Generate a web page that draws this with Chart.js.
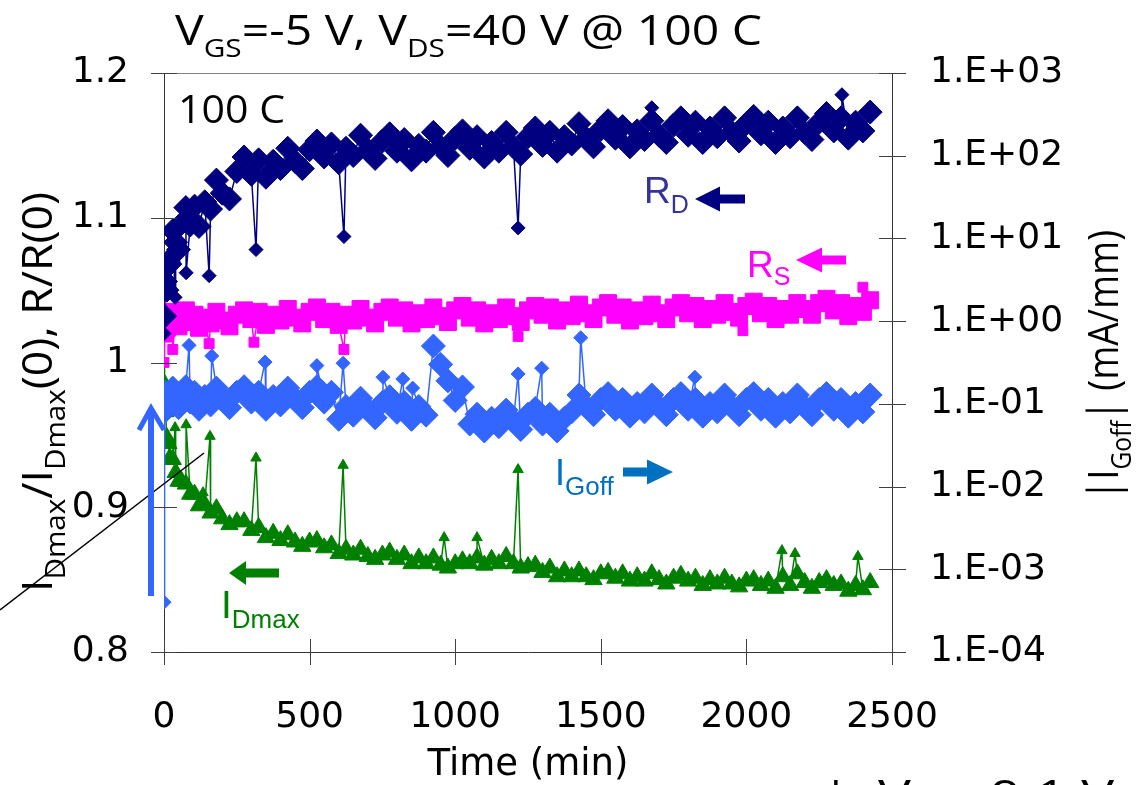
<!DOCTYPE html>
<html>
<head>
<meta charset="utf-8">
<script src="https://cdn.jsdelivr.net/npm/chart.js@4.4.0/dist/chart.umd.min.js"></script>
<style>
  body { margin: 0; background: #fff; }
  canvas { display: block; }
</style>
</head>
<body>
<canvas id="chart" width="1140" height="785"></canvas>
<script>
// Values (time in minutes).
const timeMin = [0, 2, 5, 10, 15, 20, 30, 40, 50, 60, 75, 90, 105, 120, 140, 160, 180,
  200, 225, 250, 275, 300, 325, 350, 375, 400, 425, 450, 475, 500, 525, 550, 575, 600, 625, 650, 675,
  700, 725, 750, 775, 800, 825, 850, 875, 900, 925, 950, 975, 1000, 1025, 1050, 1075, 1100, 1125, 1150, 1175,
  1200, 1225, 1250, 1275, 1300, 1325, 1350, 1375, 1400, 1425, 1450, 1475, 1500, 1525, 1550, 1575, 1600, 1625, 1650, 1675,
  1700, 1725, 1750, 1775, 1800, 1825, 1850, 1875, 1900, 1925, 1950, 1975, 2000, 2025, 2050, 2075, 2100, 2125, 2150, 2175,
  2200, 2225, 2250, 2275, 2300, 2325, 2350, 2375, 2400, 2425];

// R_D / R_D(0)
const rdValue = [1.020, 1.032, 1.056, 1.050, 1.070, 1.068, 1.091, 1.083, 1.078, 1.096,
  1.107, 1.095, 1.108, 1.094, 1.111, 1.106, 1.126,
  1.117, 1.113, 1.132, 1.142, 1.130, 1.140, 1.128, 1.139, 1.134, 1.148,
  1.139, 1.134, 1.147, 1.153, 1.142, 1.151, 1.138, 1.148, 1.143, 1.157,
  1.147, 1.141, 1.153, 1.158, 1.146, 1.154, 1.140, 1.150, 1.146, 1.159,
  1.149, 1.143, 1.155, 1.160, 1.148, 1.156, 1.142, 1.152, 1.146, 1.159,
  1.149, 1.144, 1.156, 1.162, 1.150, 1.159, 1.146, 1.156, 1.151, 1.165,
  1.155, 1.149, 1.161, 1.167, 1.155, 1.163, 1.149, 1.160, 1.154, 1.167,
  1.157, 1.152, 1.164, 1.169, 1.157, 1.166, 1.152, 1.162, 1.156, 1.169,
  1.159, 1.153, 1.165, 1.170, 1.158, 1.166, 1.152, 1.162, 1.156, 1.169,
  1.159, 1.154, 1.166, 1.172, 1.160, 1.169, 1.155, 1.166, 1.160, 1.173];
const rdSpikeTime = [38, 76, 155, 316, 618, 1216, 1675, 2328];
const rdSpikeValue = [1.045, 1.062, 1.060, 1.078, 1.087, 1.093, 1.176, 1.185];

// R_S / R_S(0)
const rsValue = [1.000, 1.020, 1.033, 1.024, 1.031, 1.027, 1.035, 1.029, 1.025, 1.033,
  1.036, 1.028, 1.033, 1.024, 1.031, 1.027, 1.035,
  1.029, 1.025, 1.033, 1.036, 1.030, 1.035, 1.026, 1.033, 1.029, 1.037,
  1.031, 1.027, 1.035, 1.038, 1.030, 1.035, 1.026, 1.033, 1.029, 1.037,
  1.031, 1.027, 1.035, 1.038, 1.031, 1.036, 1.027, 1.034, 1.030, 1.038,
  1.032, 1.028, 1.036, 1.039, 1.031, 1.036, 1.027, 1.034, 1.030, 1.038,
  1.032, 1.028, 1.036, 1.039, 1.033, 1.038, 1.029, 1.036, 1.032, 1.040,
  1.034, 1.030, 1.038, 1.041, 1.033, 1.038, 1.029, 1.036, 1.032, 1.040,
  1.034, 1.030, 1.038, 1.041, 1.034, 1.039, 1.030, 1.037, 1.033, 1.041,
  1.035, 1.031, 1.039, 1.042, 1.034, 1.039, 1.030, 1.037, 1.033, 1.041,
  1.037, 1.033, 1.041, 1.044, 1.036, 1.041, 1.032, 1.039, 1.035, 1.043];
const rsSpikeTime = [30, 155, 309, 618, 1216, 1988, 2400];
const rsSpikeValue = [1.009, 1.013, 1.014, 1.009, 1.018, 1.022, 1.052];

// |I_Goff| in mA/mm (right axis)
const igValue = [0.0004, 0.105, 0.138, 0.086, 0.123, 0.097, 0.155, 0.114, 0.090, 0.138,
  0.161, 0.105, 0.138, 0.086, 0.123, 0.097, 0.155,
  0.114, 0.090, 0.138, 0.161, 0.105, 0.138, 0.086, 0.123, 0.097, 0.155,
  0.114, 0.090, 0.138, 0.161, 0.105, 0.138, 0.065, 0.093, 0.073, 0.117,
  0.086, 0.068, 0.104, 0.122, 0.079, 0.104, 0.065, 0.093, 0.073, 0.500,
  0.300, 0.190, 0.110, 0.160, 0.057, 0.075, 0.047, 0.067, 0.053, 0.084,
  0.062, 0.049, 0.075, 0.088, 0.057, 0.075, 0.047, 0.067, 0.080, 0.128,
  0.093, 0.074, 0.113, 0.133, 0.086, 0.113, 0.071, 0.101, 0.080, 0.128,
  0.093, 0.074, 0.113, 0.133, 0.086, 0.113, 0.071, 0.101, 0.080, 0.128,
  0.093, 0.074, 0.113, 0.133, 0.086, 0.113, 0.071, 0.101, 0.080, 0.128,
  0.093, 0.074, 0.113, 0.133, 0.086, 0.113, 0.071, 0.101, 0.080, 0.128];
const igSpikeTime = [86, 164, 347, 525, 615, 752, 820, 854, 1216, 1297, 1431, 1823];
const igSpikeValue = [0.51, 0.38, 0.32, 0.29, 0.31, 0.21, 0.20, 0.155, 0.23, 0.27, 0.63, 0.21];

// I_Dmax / I_Dmax(0)
const idValue = [1.000, 0.985, 0.966, 0.948, 0.944, 0.934, 0.933, 0.924, 0.918, 0.918,
  0.916, 0.909, 0.909, 0.901, 0.902, 0.896, 0.899,
  0.892, 0.888, 0.890, 0.890, 0.884, 0.886, 0.879, 0.882, 0.877, 0.881,
  0.876, 0.873, 0.876, 0.877, 0.872, 0.874, 0.868, 0.871, 0.867, 0.871,
  0.866, 0.864, 0.867, 0.869, 0.864, 0.867, 0.861, 0.865, 0.861, 0.865,
  0.860, 0.858, 0.861, 0.863, 0.861, 0.865, 0.860, 0.864, 0.861, 0.866,
  0.861, 0.858, 0.859, 0.860, 0.855, 0.858, 0.852, 0.856, 0.852, 0.856,
  0.852, 0.850, 0.854, 0.855, 0.851, 0.854, 0.849, 0.852, 0.849, 0.854,
  0.850, 0.847, 0.851, 0.853, 0.849, 0.851, 0.846, 0.850, 0.847, 0.851,
  0.847, 0.845, 0.849, 0.850, 0.846, 0.849, 0.844, 0.852, 0.846, 0.854,
  0.848, 0.844, 0.848, 0.850, 0.846, 0.847, 0.842, 0.846, 0.843, 0.848];
const idSpikeTime = [38, 76, 134, 158, 316, 615, 962, 1075, 1216, 2122, 2167, 2383];
const idSpikeValue = [0.955, 0.957, 0.910, 0.949, 0.934, 0.929, 0.879, 0.879, 0.926, 0.870, 0.868, 0.866];

const timeTicks = [0, 500, 1000, 1500, 2000, 2500];
const leftTicks = [0.8, 0.9, 1, 1.1, 1.2];
const rightTicks = [1e-4, 1e-3, 1e-2, 1e-1, 1, 10, 100, 1000];
const rightTickLabels = ['1.E-04', '1.E-03', '1.E-02', '1.E-01', '1.E+00', '1.E+01', '1.E+02', '1.E+03'];

// band points plus the odd outliers, in time order
function series(values, spikeTime, spikeValue) {
  let pts = timeMin.map((t, i) => ({ x: t, y: values[i], spike: i === 0 }));
  spikeTime.forEach((t, i) => pts.push({ x: t, y: spikeValue[i], spike: true }));
  pts.sort((a, b) => a.x - b.x);
  return pts;
}

// marker size: big for the dense band, small for single outliers
function markerSize(big, small) {
  return ctx => (ctx.raw && ctx.raw.spike) ? small : big;
}

// text with subscripts; stretched horizontally to a target width when given
function drawRich(ctx, parts, o) {
  ctx.save();
  ctx.translate(o.x, o.y);
  if (o.angle) ctx.rotate(o.angle);
  let mainFont = o.size + 'px ' + o.family;
  let subFont = o.subSize + 'px ' + o.family;
  let total = 0;
  parts.forEach(p => { ctx.font = p[1] ? subFont : mainFont; total += ctx.measureText(p[0]).width; });
  if (o.width) ctx.scale(o.width / total, 1);
  ctx.fillStyle = o.color || '#000';
  ctx.textBaseline = 'alphabetic';
  ctx.textAlign = 'left';
  let cx = 0;
  parts.forEach(p => {
    ctx.font = p[1] ? subFont : mainFont;
    ctx.fillText(p[0], cx, p[1] ? o.drop : 0);
    cx += ctx.measureText(p[0]).width;
  });
  ctx.restore();
}

function blockArrow(ctx, tip, tail, y, headLen, headHalf, shaftHalf, color) {
  let dir = tail > tip ? 1 : -1;
  let base = tip + dir * headLen;
  ctx.save();
  ctx.fillStyle = color;
  ctx.beginPath();
  ctx.moveTo(tip, y);
  ctx.lineTo(base, y - headHalf);
  ctx.lineTo(base, y - shaftHalf);
  ctx.lineTo(tail, y - shaftHalf);
  ctx.lineTo(tail, y + shaftHalf);
  ctx.lineTo(base, y + shaftHalf);
  ctx.lineTo(base, y + headHalf);
  ctx.closePath();
  ctx.fill();
  ctx.restore();
}

const calibriLike = '"Open Sans"';
const arialLike = '"Liberation Sans"';

const decor = {
  id: 'decor',
  beforeDraw(chart) {
    let c = chart.ctx;
    c.save();
    c.fillStyle = '#fff';
    c.fillRect(0, 0, chart.width, chart.height);
    c.restore();
  },
  afterDraw(chart) {
    let c = chart.ctx, a = chart.chartArea;
    let xs = chart.scales.x, yl = chart.scales.y, yr = chart.scales.y2;
    c.save();
    // top edge of the plot frame
    c.strokeStyle = '#808080';
    c.lineWidth = 1;
    c.beginPath();
    c.moveTo(a.left, Math.round(a.top) + 0.5);
    c.lineTo(a.right, Math.round(a.top) + 0.5);
    c.stroke();
    // cross tick marks
    c.strokeStyle = '#404040';
    c.beginPath();
    leftTicks.forEach(v => {
      let y = Math.round(yl.getPixelForValue(v)) + 0.5;
      c.moveTo(a.left - 13, y); c.lineTo(a.left + 13, y);
    });
    rightTicks.forEach(v => {
      let y = Math.round(yr.getPixelForValue(v)) + 0.5;
      c.moveTo(a.right - 13, y); c.lineTo(a.right + 14, y);
    });
    timeTicks.forEach(v => {
      let x = Math.round(xs.getPixelForValue(v)) + 0.5;
      c.moveTo(x, a.bottom - 13); c.lineTo(x, a.bottom + 13);
    });
    c.stroke();

    // black pointer line on the left
    c.strokeStyle = '#000';
    c.lineWidth = 1.5;
    c.beginPath();
    c.moveTo(0, 610);
    c.lineTo(204, 453);
    c.stroke();

    // thick blue arrow pointing up
    c.strokeStyle = '#3366FF';
    c.lineWidth = 6;
    c.beginPath();
    c.moveTo(151, 596);
    c.lineTo(151, 410);
    c.stroke();
    c.lineWidth = 5;
    c.lineJoin = 'miter';
    c.beginPath();
    c.moveTo(139, 430);
    c.lineTo(151, 408);
    c.lineTo(164, 430);
    c.stroke();

    // series arrows
    blockArrow(c, 695, 745, 199, 25, 12.5, 4.5, '#000080');
    blockArrow(c, 796, 846, 260, 26, 12.5, 4.5, '#FF00FF');
    blockArrow(c, 673, 623, 472, 26, 12.5, 4.5, '#0070C0');
    blockArrow(c, 229, 279, 573, 17, 12, 4.5, '#008000');
    c.restore();

    // series labels
    drawRich(c, [['R', 0], ['D', 1]], { x: 644, y: 203, size: 37, subSize: 25, drop: 10, family: arialLike, color: '#333399' });
    drawRich(c, [['R', 0], ['S', 1]], { x: 747, y: 277, size: 37, subSize: 25, drop: 8, family: arialLike, color: '#FF00FF' });
    drawRich(c, [['I', 0], ['Goff', 1]], { x: 555, y: 485, size: 36, subSize: 26, drop: 10, family: arialLike, color: '#0070C0' });
    drawRich(c, [['I', 0], ['Dmax', 1]], { x: 221, y: 618, size: 39, subSize: 26, drop: 10, family: arialLike, color: '#008000' });

    // chart title and inner label
    drawRich(c, [['V', 0], ['GS', 1], ['=-5 V, V', 0], ['DS', 1], ['=40 V @ 100 C', 0]],
      { x: 175, y: 45, size: 42, subSize: 26, drop: 12, family: calibriLike, width: 587 });
    drawRich(c, [['100 C', 0]], { x: 178, y: 123, size: 39, subSize: 26, drop: 0, family: calibriLike, width: 107 });

    // axis titles
    drawRich(c, [['I', 0], ['Dmax', 1], ['/I', 0], ['Dmax', 1], ['(0), R/R(0)', 0]],
      { x: 52, y: 592, angle: -Math.PI / 2, size: 42, subSize: 28, drop: 13, family: calibriLike, width: 400 });
    drawRich(c, [['|I', 0], ['Goff', 1], ['| (mA/mm)', 0]],
      { x: 1118, y: 500, angle: -Math.PI / 2, size: 42, subSize: 28, drop: 13, family: calibriLike, width: 270 });
    c.save();
    c.font = '37px "DejaVu Sans"';
    c.fillStyle = '#000';
    c.textAlign = 'center';
    c.textBaseline = 'alphabetic';
    c.fillText('Time (min)', 528, 775);
    c.restore();

    // caption cut off at the bottom edge
    drawRich(c, [['I', 0], ['G', 1]], { x: 830, y: 810, size: 42, subSize: 28, drop: 12, family: calibriLike });
    drawRich(c, [['V', 0], ['GS', 1], ['=0.1 V', 0]], { x: 878, y: 810, size: 42, subSize: 28, drop: 12, family: calibriLike, width: 236 });
  }
};

const tickFont = { family: 'DejaVu Sans', size: 36 };

new Chart(document.getElementById('chart'), {
  type: 'scatter',
  data: {
    datasets: [
      {
        label: 'IGoff', yAxisID: 'y2', data: series(igValue, igSpikeTime, igSpikeValue),
        showLine: true, borderColor: '#3366FF', backgroundColor: '#3366FF', borderWidth: 1.5,
        pointStyle: 'rectRot', pointRadius: markerSize(12, 7), pointBorderWidth: 1
      },
      {
        label: 'RD', yAxisID: 'y', data: series(rdValue, rdSpikeTime, rdSpikeValue),
        showLine: true, borderColor: '#000080', backgroundColor: '#000080', borderWidth: 1.5,
        pointStyle: 'rectRot', pointRadius: markerSize(12, 7), pointBorderWidth: 1
      },
      {
        label: 'RS', yAxisID: 'y', data: series(rsValue, rsSpikeTime, rsSpikeValue),
        showLine: true, borderColor: '#FF00FF', backgroundColor: '#FF00FF', borderWidth: 1.5,
        pointStyle: 'rect', pointRadius: markerSize(12, 7), pointBorderWidth: 1
      },
      {
        label: 'IDmax', yAxisID: 'y', data: series(idValue, idSpikeTime, idSpikeValue),
        showLine: true, borderColor: '#008000', backgroundColor: '#008000', borderWidth: 1.5,
        pointStyle: 'triangle', pointRadius: markerSize(10, 6), pointBorderWidth: 1
      }
    ]
  },
  options: {
    responsive: false,
    animation: false,
    layout: { padding: { top: 73, left: 0, right: 0, bottom: 0 } },
    plugins: { legend: { display: false }, tooltip: { enabled: false } },
    scales: {
      x: {
        type: 'linear', min: 0, max: 2500,
        afterBuildTicks: axis => { axis.ticks = timeTicks.map(v => ({ value: v })); },
        afterFit: scale => { scale.height = 133; },
        grid: { display: false, drawTicks: false },
        border: { display: true, color: '#333', width: 1 },
        ticks: { font: tickFont, color: '#000', padding: 44, maxRotation: 0, autoSkip: false,
          callback: v => String(v) }
      },
      y: {
        type: 'linear', position: 'left', min: 0.8, max: 1.2,
        afterBuildTicks: axis => { axis.ticks = leftTicks.map(v => ({ value: v })); },
        afterFit: scale => { scale.width = 164; },
        grid: { display: false, drawTicks: false },
        border: { display: true, color: '#333', width: 1 },
        ticks: { font: tickFont, color: '#000', padding: 35, autoSkip: false,
          callback: v => String(+v.toFixed(1)) }
      },
      y2: {
        type: 'logarithmic', position: 'right', min: 1e-4, max: 1e3,
        afterBuildTicks: axis => { axis.ticks = rightTicks.map(v => ({ value: v })); },
        afterFit: scale => { scale.width = 248; },
        grid: { display: false, drawTicks: false },
        border: { display: true, color: '#333', width: 1 },
        ticks: { font: tickFont, color: '#000', padding: 38, autoSkip: false,
          callback: v => rightTickLabels[rightTicks.indexOf(v)] }
      }
    }
  },
  plugins: [decor]
});
</script>
</body>
</html>
